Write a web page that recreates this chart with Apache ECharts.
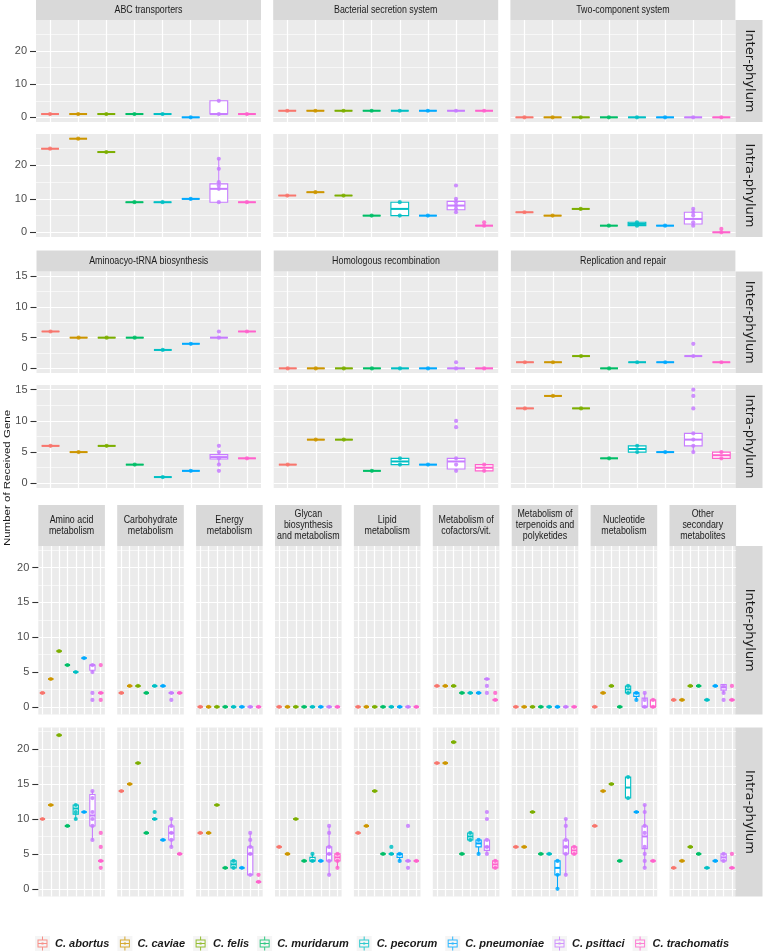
<!DOCTYPE html>
<html><head><meta charset="utf-8">
<script src="https://cdn.jsdelivr.net/npm/echarts@6/dist/echarts.min.js"></script>
<style>html,body{margin:0;padding:0;background:#fff}#c{width:764px;height:952px}</style>
</head><body><div id="c"></div>
<script>
// ---------------- DATA ----------------
const species = ['C. abortus','C. caviae','C. felis','C. muridarum','C. pecorum','C. pneumoniae','C. psittaci','C. trachomatis'];
const rowLabels = ['Inter-phylum','Intra-phylum'];
// cell: a number (every genome has that value) or [[low, q1, median, q3, high], [points]]

// Section 1
const sec1Facets = ['ABC transporters','Bacterial secretion system','Two-component system'];
const abcInter = [1,1,1,1,1,0,[[1,1,1,5,5],[1,5]],1];
const abcIntra = [25,28,24,9,9,10,[[9,9,13,14.5,22],[9,13,14,15,19,22]],9];
const secInter = [2,2,2,2,2,2,2,2];
const secIntra = [11,12,11,5,[[5,5,7,9,9],[5,9]],5,[[6,6.75,8,9.25,10],[6,7,8,9,10,14]],[[2,2,2,2,2],[2,3]]];
const tcsInter = [0,0,0,0,0,0,0,0];
const tcsIntra = [6,5,7,2,[[2,2,2.5,3,3],[2,3]],2,[[2,2.5,4,6,7],[2,3,5,6,7]],[[0,0,0,0,0],[0,1]]];
const sec1Ticks = [0,10,20], sec1Minor = [5,15,25], sec1Range = [-1.4,29.4];

// Section 2
const sec2Facets = ['Aminoacyo-tRNA biosynthesis','Homologous recombination','Replication and repair'];
const trnaInter = [6,5,5,5,3,4,[[5,5,5,5,5],[5,6]],6];
const trnaIntra = [6,5,6,3,1,2,[[3,3.9,4.2,4.6,5],[2,3,4,5,6]],4];
const homInter = [0,0,0,0,0,0,[[0,0,0,0,0],[0,1]],0];
const homIntra = [3,7,7,2,[[3,3,3.5,4,4],[3,4]],3,[[2,2.3,3.5,4,4],[2,3,4,9,10]],[[2,2,2.5,3,3],[2,3]]];
const repInter = [1,1,2,0,1,1,[[2,2,2,2,2],[2,4]],1];
const repIntra = [12,14,12,4,[[5,5,5.5,6,6],[5,6]],5,[[5,6,7,8,8],[5,6,7,8,12,14,15]],[[4,4,4.5,5,5],[4,5]]];
const sec2Ticks = [0,5,10,15], sec2Minor = [2.5,7.5,12.5], sec2Range = [-0.75,15.75];

// Section 3
const sec3Facets = ['Amino acid\nmetabolism','Carbohydrate\nmetabolism','Energy\nmetabolism','Glycan\nbiosynthesis\nand metabolism','Lipid\nmetabolism','Metabolism of\ncofactors/vit.','Metabolism of\nterpenoids and\npolyketides','Nucleotide\nmetabolism','Other\nsecondary\nmetabolites'];
const aminoInter = [2,4,8,6,5,7,[[5,5.25,6,6,6],[1,2,5,6]],[[2,2,2,2,2],[1,2,6]]];
const carbInter = [2,3,3,2,3,3,[[2,2,2,2,2],[1,2]],2];
const energyInter = [0,0,0,0,0,0,0,0];
const glycanInter = [0,0,0,0,0,0,0,0];
const lipidInter = [0,0,0,0,0,0,0,0];
const cofInter = [3,3,3,2,2,2,[[4,4,4,4,4],[2,3,4]],[[1,1,1,1,1],[1,2]]];
const terpInter = [0,0,0,0,0,0,0,0];
const nucInter = [0,2,3,0,[[2,2,2.5,3,3],[2,3]],[[1,1.5,2,2,2],[1,2]],[[0,0,0,1.25,2],[0,1,2]],[[0,0,0,1,1],[0,1]]];
const otherInter = [1,1,3,3,1,3,[[2,2.4,2.8,3.2,3.2],[1,2,3]],[[1,1,1,1,1],[1,3]]];
const aminoIntra = [10,12,22,9,[[10,10.7,11.5,12,12],[10,11,12]],11,[[7,9,10.5,13.5,14],[7,9,10,11,13,14]],[[4,4,4,4,4],[3,4,6,8]]];
const carbIntra = [14,15,18,8,[[10,10,10,10,10],[10,11]],7,[[6,7,8,9,10],[6,7,8,9,10]],5];
const energyIntra = [8,8,12,3,[[3,3,3.5,4,4],[3,4]],3,[[2,2,5,6,8],[2,5,6,7,8]],[[1,1,1,1,1],[1,2]]];
const glycanIntra = [6,5,10,4,[[4,4,4,4.5,5],[4,5]],4,[[2,4,5,6,9],[2,4,5,6,8,9]],[[3,4,4.5,5,5],[3,4,5]]];
const lipidIntra = [8,9,14,5,[[5,5,5,5,5],[5,6]],[[4,4.5,5,5,5],[4,5]],[[4,4,4,4,4],[3,4,9]],4];
const cofIntra = [18,18,21,5,[[7,7,7.5,8,8],[7,8]],[[5,6,6.5,7,7],[5,7]],[[5,5.5,6,7,7],[5,6,7,10,11]],[[3,3,3.5,4,4],[3,4]]];
const terpIntra = [6,6,11,5,5,[[0,2,3,4,4],[0,2,4]],[[2,5,6,7,10],[2,5,6,7,9,10]],[[5,5,5.5,6,6],[5,6]]];
const nucIntra = [9,14,15,4,[[13,13,14.5,16,16],[13,16]],11,[[3,5.75,7.5,9,12],[3,4,5,6,8,9,11,12]],4];
const otherIntra = [3,4,6,5,3,4,[[4,4,4.5,5,5],[4,5]],[[3,3,3,3,3],[3,5]]];
const sec3Ticks = [0,5,10,15,20], sec3Minor = [2.5,7.5,12.5,17.5,22.5], sec3Range = [-1.1,23.1];

const yTitle = 'Number of Received Gene';

// ---------------- STYLE / LAYOUT ----------------
const speciesColors = ['#F8766D','#CD9600','#7CAE00','#00BE67','#00BFC4','#00A9FF','#C77CFF','#FF61CC'];
const SANS = "'Liberation Sans',Arial,sans-serif";
const layouts = [
  {left:36, step:237.2, width:225, stripTop:0, stripH:20, rows:[[20,102],[134,103]]},
  {left:36.5, step:237.2, width:224.5, stripTop:250.5, stripH:21, rows:[[271.5,101.5],[385,103]]},
  {left:38.3, step:78.9, width:66.6, stripTop:505, stripH:41, rows:[[546,168.5],[727.5,169]]}
];
const sectionDefs = [
  {facets:sec1Facets, rows:[[abcInter,secInter,tcsInter],[abcIntra,secIntra,tcsIntra]], ticks:sec1Ticks, minor:sec1Minor, range:sec1Range},
  {facets:sec2Facets, rows:[[trnaInter,homInter,repInter],[trnaIntra,homIntra,repIntra]], ticks:sec2Ticks, minor:sec2Minor, range:sec2Range},
  {facets:sec3Facets, rows:[[aminoInter,carbInter,energyInter,glycanInter,lipidInter,cofInter,terpInter,nucInter,otherInter],
                            [aminoIntra,carbIntra,energyIntra,glycanIntra,lipidIntra,cofIntra,terpIntra,nucIntra,otherIntra]],
   ticks:sec3Ticks, minor:sec3Minor, range:sec3Range}
];
const stripX = 735.5, stripW = 27;

// ---------------- BUILD ----------------
const grids = [], xAxes = [], yAxes = [], series = [], graphics = [];
const catIdx = species.map((s,i)=>i);

function cellBox(c){ return typeof c === 'number' ? [c,c,c,c,c] : c[0]; }
function cellPts(c){ return typeof c === 'number' ? [c] : c[1]; }

function renderBox(params, api){
  const xi = api.value(0);
  const col = speciesColors[xi];
  const lo = api.coord([xi, api.value(1)]);
  const q1 = api.coord([xi, api.value(2)]);
  const md = api.coord([xi, api.value(3)]);
  const q3 = api.coord([xi, api.value(4)]);
  const hi = api.coord([xi, api.value(5)]);
  const bw = api.size([1,0])[0] * 0.63;
  const cx = q1[0], h = bw/2;
  return {type:'group', children:[
    {type:'line', shape:{x1:cx,y1:q3[1],x2:cx,y2:hi[1]}, style:{stroke:col,lineWidth:1.1}},
    {type:'line', shape:{x1:cx,y1:q1[1],x2:cx,y2:lo[1]}, style:{stroke:col,lineWidth:1.1}},
    {type:'rect', shape:{x:cx-h,y:q3[1],width:bw,height:Math.max(q1[1]-q3[1],0)}, style:{fill:'#FFFFFF',stroke:col,lineWidth:1.1}},
    {type:'line', shape:{x1:cx-h,y1:md[1],x2:cx+h,y2:md[1]}, style:{stroke:col,lineWidth:2}}
  ]};
}

function addPanel(left, top, width, height, sec, cells, showY){
  const gi = grids.length;
  grids.push({left:left, top:top, width:width, height:height, show:true, backgroundColor:'#EBEBEB', borderWidth:0});
  const xCat = xAxes.length;
  xAxes.push({type:'category', gridIndex:gi, data:species, show:false, axisLine:{onZero:false}});
  xAxes.push({type:'value', gridIndex:gi, min:-0.5, max:7.5, axisLine:{show:false, onZero:false}, axisLabel:{show:false},
    axisTick:{show:false, customValues:catIdx}, splitLine:{show:true, lineStyle:{color:'#FFFFFF', width:1.2}}});
  const yMain = yAxes.length;
  yAxes.push({type:'value', gridIndex:gi, position:'left', min:sec.range[0], max:sec.range[1], axisLine:{show:false, onZero:false},
    axisTick:{show:showY, customValues:sec.ticks, length:6, lineStyle:{color:'#333333', width:1.1}},
    axisLabel:{show:showY, customValues:sec.ticks, margin:9, color:'#4D4D4D', fontSize:11, fontFamily:SANS},
    splitLine:{show:true, lineStyle:{color:'#FFFFFF', width:1.2}}});
  yAxes.push({type:'value', gridIndex:gi, position:'right', min:sec.range[0], max:sec.range[1], axisLine:{show:false, onZero:false},
    axisTick:{show:false, customValues:sec.minor}, axisLabel:{show:false},
    splitLine:{show:true, lineStyle:{color:'#FFFFFF', width:0.6}}});
  series.push({type:'custom', xAxisIndex:xCat, yAxisIndex:yMain, renderItem:renderBox, silent:true, z:2,
    encode:{x:0, y:[1,2,3,4,5]},
    data: cells.map((c,i)=>[species[i]].concat(cellBox(c)))});
  const pts = [];
  cells.forEach((c,i)=>cellPts(c).forEach(v=>pts.push({value:[species[i], v], itemStyle:{color:speciesColors[i]}})));
  series.push({type:'scatter', xAxisIndex:xCat, yAxisIndex:yMain, symbolSize:4.2, silent:true, z:3,
    itemStyle:{opacity:0.85}, data:pts});
}

sectionDefs.forEach((sec, si)=>{
  const lay = layouts[si];
  sec.facets.forEach((fname, fi)=>{
    const left = lay.left + fi*lay.step;
    graphics.push({type:'rect', silent:true, shape:{x:left, y:lay.stripTop, width:lay.width, height:lay.stripH}, style:{fill:'#D9D9D9'}});
    graphics.push({type:'text', silent:true, x:left+lay.width/2, y:lay.stripTop+lay.stripH/2, scaleX:0.82,
      style:{text:fname, fill:'#1A1A1A', font:"10.8px "+SANS, align:'center', verticalAlign:'middle',
             textAlign:'center', textVerticalAlign:'middle', lineHeight:11}});
    sec.rows.forEach((rowCells, ri)=>{
      const [top, h] = lay.rows[ri];
      addPanel(left, top, lay.width, h, sec, rowCells[fi], fi===0);
    });
  });
  lay.rows.forEach(([top,h], ri)=>{
    graphics.push({type:'rect', silent:true, shape:{x:stripX, y:top, width:stripW, height:h}, style:{fill:'#D9D9D9'}});
    graphics.push({type:'text', silent:true, x:stripX+stripW/2, y:top+h/2, rotation:-Math.PI/2,
      style:{text:rowLabels[ri], fill:'#1A1A1A', font:"13px 'DejaVu Sans',sans-serif", align:'center', verticalAlign:'middle',
             textAlign:'center', textVerticalAlign:'middle'}});
  });
});

graphics.push({type:'text', silent:true, x:7, y:478, rotation:Math.PI/2, scaleY:0.8,
  style:{text:yTitle, fill:'#1A1A1A', font:"11.5px "+SANS, align:'center', verticalAlign:'middle',
         textAlign:'center', textVerticalAlign:'middle'}});

// legend carrier series (empty)
const boxIcon = 'path://M0,0L0,0Z M15,15L15,15Z M7,0.5h1v3h-1z M2.5,3.5h10v8h-10z M3.5,4.5v6h8v-6z M3.5,7h8v1h-8z M6.5,6.5h2v2h-2z M7,11.5h1v3h-1z';
species.forEach((s,i)=>series.push({type:'scatter', name:s, xAxisIndex:0, yAxisIndex:0, data:[], itemStyle:{color:speciesColors[i]}}));

const legendCommon = {left:30, top:931, itemWidth:15, itemHeight:15, itemGap:8, selectedMode:false};
const chart = echarts.init(document.getElementById('c'));
chart.setOption({
  animation:false,
  backgroundColor:'#FFFFFF',
  grid:grids, xAxis:xAxes, yAxis:yAxes, series:series,
  graphic:{elements:graphics},
  legend:[
    Object.assign({}, legendCommon, {z:3, data:species.map(s=>({name:s, icon:'rect'})),
      itemStyle:{color:'#F2F2F2', borderWidth:0},
      textStyle:{fontSize:11, fontWeight:'bold', fontStyle:'italic', color:'rgba(0,0,0,0)', fontFamily:SANS}}),
    Object.assign({}, legendCommon, {z:4, data:species.map(s=>({name:s, icon:boxIcon})),
      textStyle:{fontSize:11, fontWeight:'bold', fontStyle:'italic', color:'#1A1A1A', fontFamily:SANS}})
  ]
});
</script></body></html>
